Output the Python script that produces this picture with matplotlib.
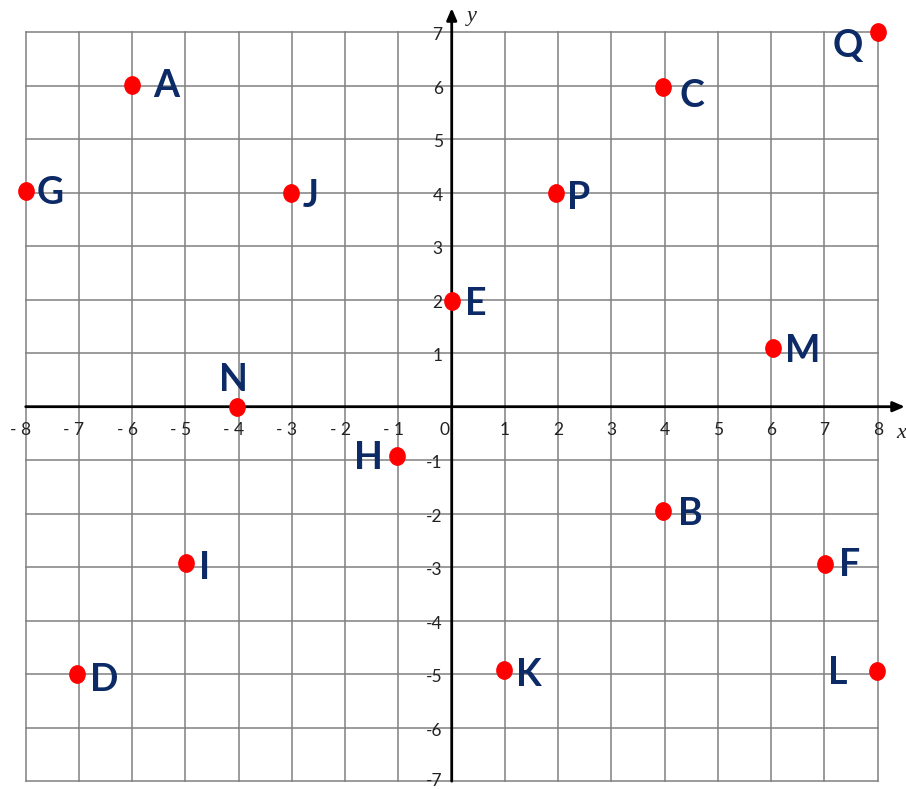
import matplotlib
matplotlib.use("Agg")
import matplotlib.pyplot as plt
from matplotlib.path import Path
from matplotlib.transforms import Affine2D

# points
names = ['A', 'B', 'C', 'D', 'E', 'F', 'G', 'H', 'I', 'J', 'K', 'L', 'M', 'N', 'P', 'Q']
xs = [-6, 3.97, 3.96, -7.03, 0, 7.01, -8, -1.03, -4.99, -3.02, 0.98, 7.99, 6.03, -4.03, 1.96, 8]
ys = [6.02, -1.95, 5.98, -4.99, 1.98, -2.94, 4.04, -0.92, -2.92, 4.0, -4.92, -4.94, 1.1, 0, 4.0, 7]

x_ticks = [-8, -7, -6, -5, -4, -3, -2, -1, 1, 2, 3, 4, 5, 6, 7, 8]
y_ticks = [-7, -6, -5, -4, -3, -2, -1, 1, 2, 3, 4, 5, 6, 7]

# label offsets in pixels (label centre relative to dot)
offsets = {
    'A': (34, 1), 'B': (27, 0), 'C': (29, -7), 'D': (27, -4), 'E': (24, -1),
    'F': (25, 1), 'G': (24, 0), 'H': (-28, 0), 'I': (19, -3), 'J': (20, -1),
    'K': (25, -3), 'L': (-39, 0), 'M': (30, -1), 'N': (-4, 29), 'P': (23, -3),
    'Q': (-30, -11),
}

navy = '#0b2a66'
grid_col = '#808080'

fig = plt.figure(figsize=(9.06, 7.89), dpi=100)
ax = fig.add_axes([0, 0, 1, 1])
ax.set_xlim(-8.483, 8.531)
ax.set_ylim(-7.146, 7.602)
ax.axis('off')

# grid
for gx in range(-8, 9):
    ax.plot([gx, gx], [-7, 7], color=grid_col, lw=1.1, zorder=1)
for gy in range(-7, 8):
    ax.plot([-8, 8], [gy, gy], color=grid_col, lw=1.1, zorder=1)

# axes with arrows
ax.annotate('', xy=(8.51, 0), xytext=(-8, 0),
            arrowprops=dict(arrowstyle='-|>,head_length=0.7,head_width=0.3',
                            lw=2.0, color='black', shrinkA=0, shrinkB=0), zorder=2)
ax.annotate('', xy=(0, 7.45), xytext=(0, -7.0),
            arrowprops=dict(arrowstyle='-|>,head_length=0.7,head_width=0.3',
                            lw=2.0, color='black', shrinkA=0, shrinkB=0), zorder=2)

tick_font = dict(family='Lato', fontsize=12.5, color='#222222')
for v in x_ticks:
    if v < 0:
        ax.text(v + 0.1, -0.53, '- ' + str(abs(v)), ha='right', va='baseline', **tick_font)
    else:
        ax.text(v, -0.53, str(v), ha='center', va='baseline', **tick_font)
ax.text(-0.05, -0.53, '0', ha='right', va='baseline', **tick_font)
for v in y_ticks:
    if v == -7:
        # bottom label kept just inside the picture
        ax.text(-0.17, -7.14, str(v), ha='right', va='bottom', **tick_font)
    else:
        ax.text(-0.17, v - 0.15, str(v), ha='right', va='baseline', **tick_font)

ax.text(8.525, -0.5, 'x', ha='right', va='center', family='Liberation Serif',
        style='italic', fontsize=16, color='#222222')
ax.text(0.38, 7.3, 'y', ha='center', va='center', family='Liberation Serif',
        style='italic', fontsize=16, color='#222222')

# slightly tall oval dots
oval = Path.unit_circle().transformed(Affine2D().scale(0.88, 1.0))
ax.plot(xs, ys, linestyle='none', marker=oval, markersize=12.5,
        color='#ff0000', zorder=4)

for n, x, y in zip(names, xs, ys):
    dx, dy = offsets[n]
    ax.annotate(n, (x, y), xytext=(dx, dy - 13.5), textcoords='offset pixels',
                ha='center', va='baseline', family='Lato', fontweight='bold',
                fontsize=27, color=navy, zorder=5)

fig.savefig('out.png', dpi=100)
